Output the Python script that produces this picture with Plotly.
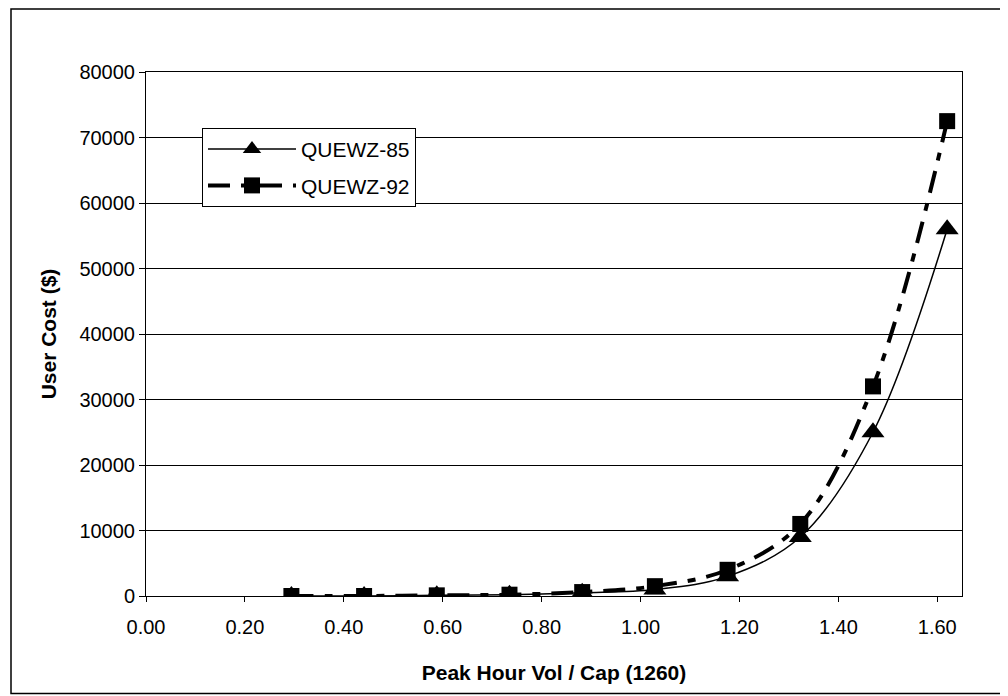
import plotly.graph_objects as go

# Data
vc_ratio = [0.294, 0.441, 0.588, 0.735, 0.882, 1.029, 1.176, 1.323, 1.470, 1.620]
cost_quewz85 = [0, 0, 100, 200, 500, 1000, 3000, 9000, 25000, 56000]
cost_quewz92 = [0, 0, 100, 200, 600, 1500, 4000, 11000, 32000, 72500]
series_names = ["QUEWZ-85", "QUEWZ-92"]
x_tick_vals = [0.0, 0.2, 0.4, 0.6, 0.8, 1.0, 1.2, 1.4, 1.6]
x_tick_text = ["0.00", "0.20", "0.40", "0.60", "0.80", "1.00", "1.20", "1.40", "1.60"]
y_tick_vals = [0, 10000, 20000, 30000, 40000, 50000, 60000, 70000, 80000]

FONT = "Liberation Sans, Arial, sans-serif"

# page body adds an 8px margin, so the figure is 1000x688 to fit the window
W, H = 1000, 688
L, R, T, B = 138, 46, 64, 99.5
PW, PH = W - L - R, H - T - B

fig = go.Figure()
fig.add_trace(go.Scatter(
    x=vc_ratio, y=cost_quewz85, name=series_names[0], mode="lines+markers",
    legendgroup="a",
    line=dict(color="black", width=1.5, shape="spline", smoothing=1.0),
    marker=dict(symbol="triangle-up", size=20, color="black"),
))
fig.add_trace(go.Scatter(
    x=vc_ratio, y=cost_quewz92, name=series_names[1], mode="lines+markers",
    legendgroup="b",
    line=dict(color="black", width=4, shape="spline", smoothing=1.0,
              dash="22px,11px,8px,11px"),
    marker=dict(symbol="square", size=16, color="black"),
))

fig.update_layout(
    width=W, height=H,
    margin=dict(l=L, r=R, t=T, b=B, autoexpand=False),
    paper_bgcolor="white", plot_bgcolor="white",
    font=dict(family=FONT, size=20, color="black"),
    showlegend=True,
    legend=dict(
        x=(194 - L) / PW, y=(PH + T - 120) / PH, xanchor="left", yanchor="top",
        bgcolor="white", bordercolor="black", borderwidth=1,
        font=dict(family=FONT, size=21, color="black"),
        itemwidth=88, tracegroupgap=6,
    ),
    xaxis=dict(
        range=[0, 1.65], tickvals=x_tick_vals, ticktext=x_tick_text,
        showgrid=False, zeroline=False, showline=True, linecolor="black",
        linewidth=1, mirror=True, ticks="outside", ticklen=5, tickcolor="black",
        ticklabelstandoff=8,
        title=dict(text="<b>Peak Hour Vol / Cap (1260)</b>",
                   font=dict(family=FONT, size=21), standoff=28),
    ),
    yaxis=dict(
        range=[0, 80000], tickvals=y_tick_vals, tickformat="d",
        showgrid=True, gridcolor="black", gridwidth=1, zeroline=False,
        showline=True, linecolor="black", linewidth=1, mirror=True,
        ticks="outside", ticklen=6, tickcolor="black",
        title=dict(text="<b>User Cost ($)</b>",
                   font=dict(family=FONT, size=21), standoff=17),
    ),
    shapes=[dict(type="rect", xref="paper", yref="paper",
                 x0=(3 - L) / PW, x1=(994 - L) / PW,
                 y0=-(H - 2 - T - PH) / PH,
                 y1=(PH + T - 1) / PH,
                 line=dict(color="black", width=1.5), fillcolor="rgba(0,0,0,0)",
                 layer="below")],
)

fig.write_html("out.html")
